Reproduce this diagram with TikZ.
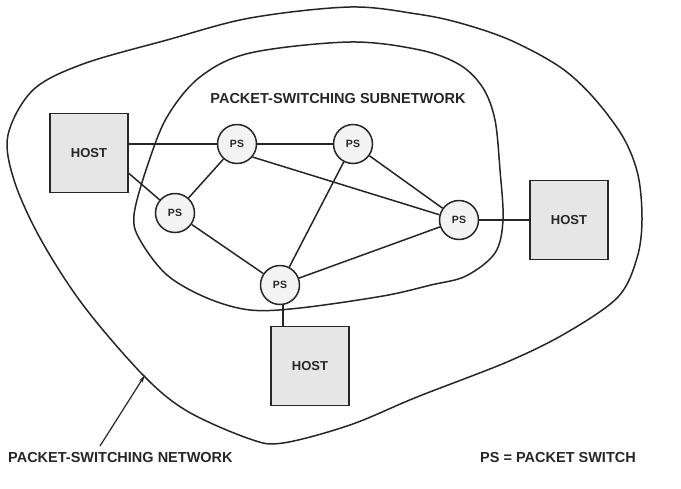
\documentclass[tikz,border=0pt]{standalone}
\usepackage{fontspec}
\setmainfont{Liberation Sans}
\usetikzlibrary{arrows.meta,calc}
\definecolor{ink}{HTML}{262626}
\definecolor{hostfill}{HTML}{E6E6E6}
\definecolor{psfill}{HTML}{F3F3F3}
\begin{document}
\begin{tikzpicture}[x=1pt,y=-1pt,
  host/.style={draw=ink,line width=1.6pt,fill=hostfill,minimum width=78pt,minimum height=79pt,
    inner sep=0pt,font=\bfseries\fontsize{13}{15}\selectfont,text=ink},
  pswitch/.style={circle,draw=ink,line width=1.5pt,fill=psfill,minimum size=39pt,inner sep=0pt,
    font=\bfseries\fontsize{10.5}{12}\selectfont,text=ink},
  caption/.style={font=\bfseries\fontsize{14.5}{17}\selectfont,text=ink,inner sep=0pt},
  link/.style={draw=ink,line width=1.5pt},
  boundary/.style={draw=ink,line width=1.5pt}]
\useasboundingbox (0,0) rectangle (681,488);

% outer network boundary
\draw[boundary] plot[smooth cycle,tension=0.55] coordinates {
  (8,135) (33,90) (83,64) (167,40) (250,18) (350,7) (417,14) (460,23)
  (510,40) (560,67) (593,97) (623,137) (638,175) (642,220) (637,258)
  (618,297) (566,333) (507,362) (417,397) (350,425) (283,443) (250,439)
  (187,411) (143,375) (83,305) (40,238) (14,180)};

% inner subnetwork boundary
\draw[boundary] plot[smooth cycle,tension=0.55] coordinates {
  (250,53) (350,42) (420,50) (460,65) (483,88) (495,120) (500,170)
  (503,220) (495,253) (466,276) (431,285) (383,296) (300,308) (250,310)
  (207,298) (167,275) (140,240) (134,215) (147,167) (167,117) (200,77)};

\node[caption] (subnet) at (338,99) {PACKET-SWITCHING SUBNETWORK};

% hosts
\node[host] (h1) at (89,153) {HOST};
\node[host] (h2) at (569,220) {HOST};
\node[host] (h3) at (310,366) {HOST};

% packet switches
\node[pswitch] (p1) at (237,144) {PS};
\node[pswitch] (p2) at (353,144) {PS};
\node[pswitch] (p3) at (175,213) {PS};
\node[pswitch] (p4) at (459,220) {PS};
\node[pswitch] (p5) at (280,285) {PS};

% attachment points of the host links
\coordinate (h1low) at ($(h1.south east)+(0,-20)$);
\coordinate (p5foot) at ($(p5.south)+(3,0)$);
\coordinate (h3top) at (p5foot |- h3.north);

% links
\draw[link] (h1.east |- p1) -- (p1);
\draw[link] (h1low) -- (p3);
\draw[link] (p1) -- (p2);
\draw[link] (p1) -- (p3);
\draw[link] (p1.-40) -- (p4.165);
\draw[link] (p2) -- (p4);
\draw[link] (p2) -- (p5);
\draw[link] (p3) -- (p5);
\draw[link] (p5) -- (p4);
\draw[link] (p4) -- (p4 -| h2.west);
\draw[link] (p5foot) -- (h3top);

% labels
\coordinate (tail) at (100,446);
\coordinate (tip) at (145,375);
\draw[link,line width=1.2pt,-{Stealth[length=8pt,width=4pt]}] (tail) -- (tip);
\node[caption,anchor=west] (netlabel) at (8,458) {PACKET-SWITCHING NETWORK};
\node[caption,anchor=west] (legend) at (480,458) {PS = PACKET SWITCH};
\end{tikzpicture}
\end{document}
